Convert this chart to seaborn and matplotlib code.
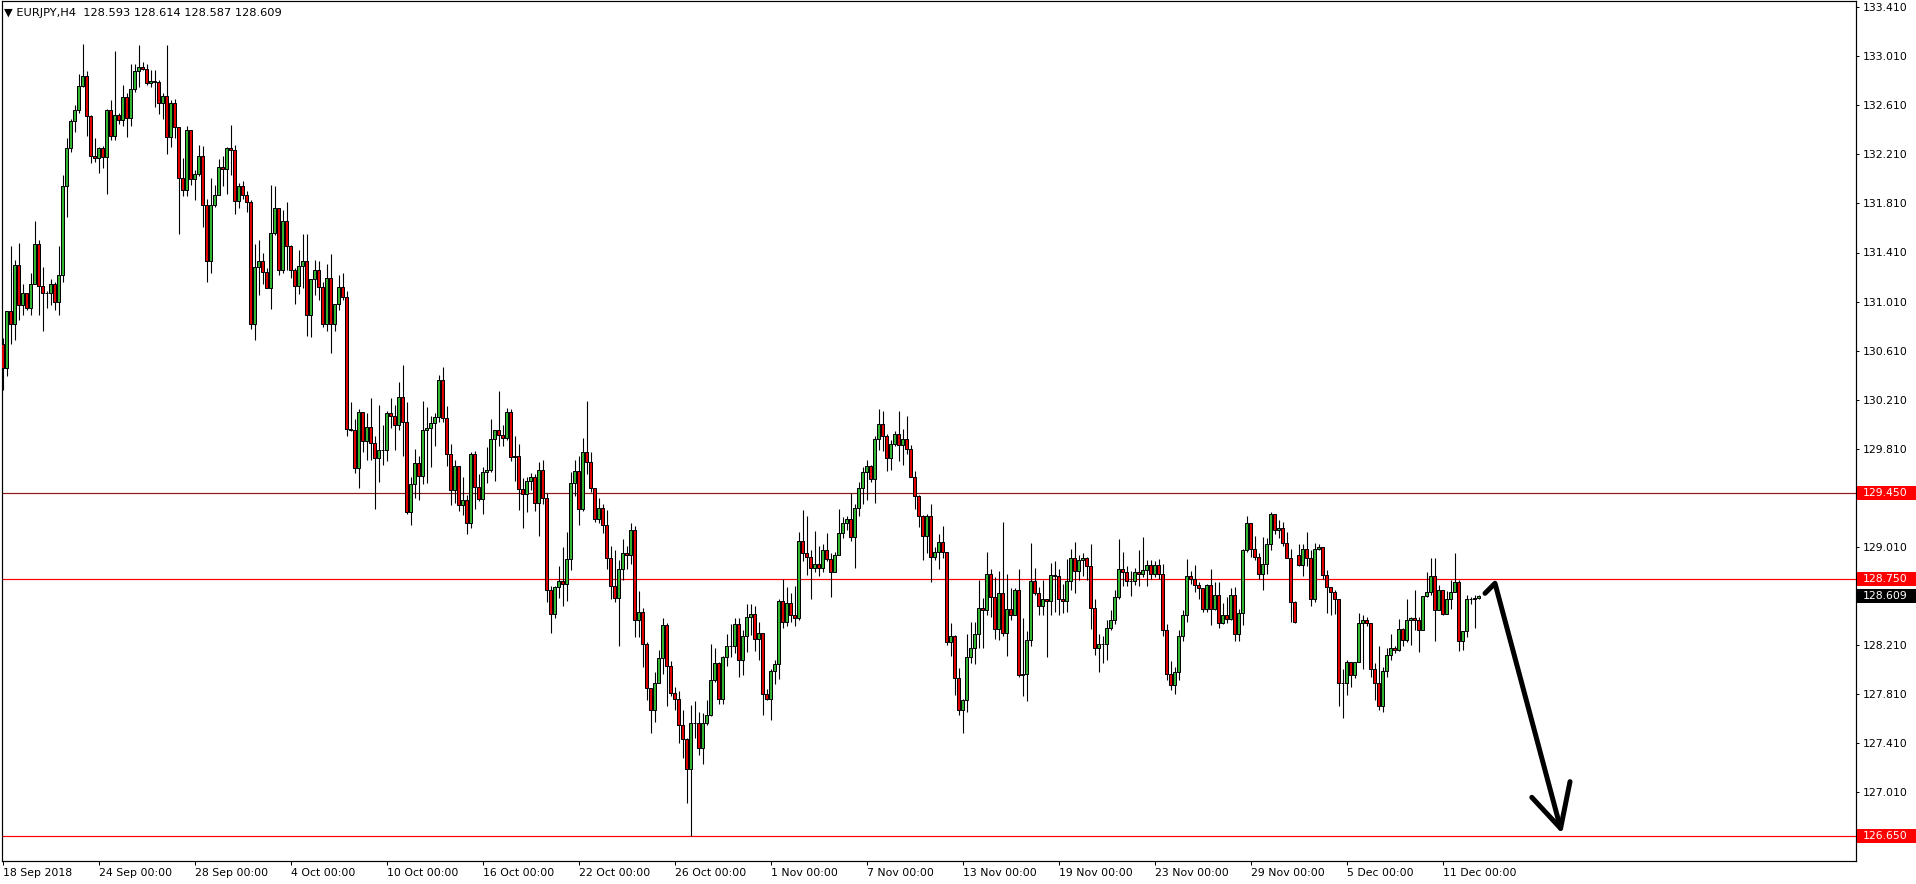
import numpy as np
import matplotlib
matplotlib.use("Agg")
import matplotlib.pyplot as plt
import matplotlib.transforms as mtransforms
from matplotlib.patches import Rectangle
import seaborn as sns

# EURJPY H4 candles (open = previous close unless listed)
first_open = 130.66
open_gaps = {324: 128.94, 369: 128.593}

close = [
    130.47, 130.93, 130.83, 131.31, 130.98, 131.08, 130.96, 131.15, 131.48, 131.14,
    131.08, 131.08, 131.15, 131.01, 131.23, 131.95, 132.26, 132.48, 132.57, 132.77,
    132.85, 132.52, 132.20, 132.18, 132.26, 132.19, 132.57, 132.36, 132.53, 132.49,
    132.68, 132.51, 132.74, 132.89, 132.92, 132.91, 132.79, 132.81, 132.80, 132.63,
    132.69, 132.35, 132.63, 132.43, 132.02, 131.92, 132.41, 132.01, 132.05, 132.20,
    131.80, 131.34, 131.80, 131.88, 132.11, 132.09, 132.26, 132.25, 131.83, 131.95,
    131.88, 131.82, 130.83, 131.29, 131.34, 131.25, 131.12, 131.57, 131.77, 131.27,
    131.67, 131.46, 131.27, 131.14, 131.30, 131.34, 130.90, 131.19, 131.27, 131.13,
    130.83, 131.20, 130.83, 130.99, 131.13, 131.05, 129.97, 129.96, 129.65, 130.11,
    129.87, 129.99, 129.86, 129.73, 129.80, 129.80, 130.10, 130.08, 130.00, 130.23,
    130.03, 129.29, 129.52, 129.69, 129.59, 129.96, 129.98, 130.02, 130.07, 130.37,
    130.06, 129.77, 129.47, 129.67, 129.35, 129.39, 129.20, 129.77, 129.50, 129.40,
    129.62, 129.64, 129.89, 129.96, 129.92, 129.90, 130.11, 129.74, 129.75, 129.48,
    129.44, 129.55, 129.58, 129.37, 129.64, 129.41, 128.66, 128.46, 128.68, 128.73,
    128.71, 128.91, 129.53, 129.63, 129.32, 129.78, 129.70, 129.49, 129.24, 129.33,
    129.19, 128.92, 128.69, 128.59, 128.83, 128.96, 128.94, 129.15, 128.41, 128.48,
    128.22, 127.86, 127.68, 127.90, 128.10, 128.37, 128.04, 127.82, 127.77, 127.56,
    127.44, 127.20, 127.57, 127.57, 127.37, 127.57, 127.64, 127.92, 128.06, 127.77,
    128.11, 128.20, 128.20, 128.38, 128.09, 128.28, 128.44, 128.46, 128.26, 128.31,
    127.81, 127.77, 128.00, 128.05, 128.57, 128.40, 128.55, 128.45, 128.43, 129.06,
    128.96, 128.93, 128.84, 128.87, 128.84, 128.98, 128.91, 128.80, 128.94, 129.12,
    129.20, 129.24, 129.09, 129.33, 129.49, 129.62, 129.67, 129.56, 129.89, 130.01,
    129.91, 129.73, 129.85, 129.93, 129.84, 129.89, 129.81, 129.58, 129.42, 129.26,
    129.10, 129.26, 128.93, 128.97, 129.05, 128.97, 128.23, 128.28, 127.94, 127.68,
    127.76, 128.11, 128.18, 128.30, 128.51, 128.49, 128.79, 128.60, 128.34, 128.63,
    128.31, 128.50, 128.45, 128.66, 127.96, 127.97, 128.25, 128.73, 128.63, 128.53,
    128.58, 128.57, 128.78, 128.77, 128.58, 128.57, 128.73, 128.92, 128.81, 128.90,
    128.92, 128.85, 128.51, 128.18, 128.22, 128.22, 128.35, 128.41, 128.60, 128.83,
    128.80, 128.73, 128.73, 128.80, 128.79, 128.82, 128.86, 128.79, 128.86, 128.79,
    128.33, 127.97, 127.88, 127.99, 128.28, 128.45, 128.77, 128.75, 128.70, 128.67,
    128.50, 128.70, 128.50, 128.62, 128.39, 128.45, 128.42, 128.62, 128.30, 128.47,
    128.98, 129.20, 128.99, 128.93, 128.79, 128.87, 129.03, 129.28, 129.15, 129.16,
    129.04, 128.92, 128.56, 128.40, 128.86, 128.99, 128.92, 128.58, 128.99, 129.01,
    128.78, 128.68, 128.64, 128.58, 127.90, 127.90, 128.07, 127.96, 128.07, 128.39,
    128.41, 128.39, 128.01, 127.90, 127.71, 128.00, 128.13, 128.18, 128.17, 128.34,
    128.25, 128.41, 128.43, 128.41, 128.33, 128.61, 128.64, 128.77, 128.49, 128.66,
    128.46, 128.58, 128.64, 128.72, 128.24, 128.32, 128.58, 128.58, 128.59, 128.609,
]

high = [
    130.71, 130.93, 131.46, 131.35, 131.49, 131.15, 131.08, 131.24, 131.67, 131.51,
    131.29, 131.10, 131.19, 131.17, 131.46, 132.04, 132.34, 132.50, 132.61, 132.87,
    133.11, 132.89, 132.53, 132.34, 132.27, 132.28, 132.58, 132.65, 133.05, 132.55,
    132.78, 132.71, 132.95, 132.95, 133.10, 132.96, 132.95, 132.90, 132.90, 132.82,
    132.71, 133.10, 132.65, 132.66, 132.43, 132.18, 132.44, 132.41, 132.08, 132.29,
    132.28, 131.85, 132.02, 131.96, 132.17, 132.20, 132.27, 132.45, 132.29, 131.98,
    131.99, 131.91, 131.84, 131.48, 131.51, 131.41, 131.28, 131.96, 131.95, 131.77,
    131.76, 131.82, 131.47, 131.28, 131.43, 131.56, 131.56, 131.19, 131.35, 131.34,
    131.17, 131.32, 131.40, 130.99, 131.23, 131.24, 131.10, 130.19, 130.05, 130.13,
    130.09, 130.10, 130.22, 129.91, 130.17, 130.00, 130.12, 130.22, 130.17, 130.35,
    130.49, 130.19, 129.58, 129.81, 129.75, 130.20, 130.15, 130.08, 130.10, 130.41,
    130.48, 130.16, 129.85, 129.72, 129.64, 129.58, 129.43, 129.78, 129.79, 129.60,
    129.66, 129.82, 130.05, 129.96, 130.28, 130.00, 130.14, 130.13, 129.91, 129.85,
    129.57, 129.58, 129.61, 129.60, 129.70, 129.72, 129.45, 128.69, 128.69, 128.85,
    129.01, 129.13, 129.62, 129.72, 129.75, 129.90, 130.20, 129.78, 129.49, 129.41,
    129.36, 129.31, 129.02, 128.98, 128.90, 129.07, 129.02, 129.20, 129.18, 128.65,
    128.51, 128.23, 127.81, 127.99, 128.17, 128.43, 128.39, 128.08, 127.87, 127.83,
    127.68, 127.45, 127.72, 127.75, 127.66, 127.65, 127.76, 128.22, 128.18, 128.07,
    128.12, 128.30, 128.38, 128.43, 128.43, 128.33, 128.54, 128.54, 128.53, 128.40,
    128.31, 127.85, 128.01, 128.09, 128.58, 128.75, 128.68, 128.63, 128.69, 129.13,
    129.31, 129.26, 128.98, 129.14, 129.02, 129.03, 129.12, 128.96, 128.97, 129.32,
    129.25, 129.26, 129.45, 129.36, 129.54, 129.66, 129.72, 129.68, 129.91, 130.13,
    130.12, 129.93, 129.88, 129.95, 130.12, 129.97, 130.08, 129.84, 129.63, 129.43,
    129.27, 129.28, 129.36, 129.01, 129.11, 129.18, 128.97, 128.39, 128.29, 128.02,
    127.77, 128.30, 128.40, 128.40, 128.74, 128.59, 128.97, 128.83, 128.76, 128.81,
    129.21, 128.79, 128.67, 128.67, 128.83, 128.43, 128.32, 129.04, 128.84, 128.68,
    128.74, 128.58, 128.88, 128.89, 128.83, 128.71, 128.91, 128.99, 129.05, 128.94,
    128.96, 128.93, 129.03, 128.58, 128.30, 128.28, 128.41, 128.49, 128.66, 129.07,
    128.97, 128.85, 128.81, 128.84, 128.98, 129.09, 128.90, 128.90, 128.89, 128.91,
    128.87, 128.38, 128.08, 128.03, 128.33, 128.49, 128.91, 128.81, 128.86, 128.72,
    128.66, 128.71, 128.83, 128.72, 128.72, 128.55, 128.60, 128.67, 128.68, 128.50,
    128.99, 129.26, 129.18, 129.10, 128.96, 129.09, 129.08, 129.29, 129.27, 129.23,
    129.21, 129.13, 128.99, 128.57, 129.03, 129.03, 129.13, 128.98, 129.04, 129.03,
    128.99, 128.82, 128.68, 128.66, 128.58, 128.01, 128.09, 128.07, 128.07, 128.47,
    128.45, 128.44, 128.37, 128.06, 128.20, 128.03, 128.18, 128.30, 128.20, 128.42,
    128.35, 128.58, 128.44, 128.66, 128.44, 128.61, 128.80, 128.92, 128.92, 128.70,
    128.66, 128.65, 128.74, 128.96, 128.74, 128.32, 128.62, 128.60, 128.62, 128.614,
]

low = [
    130.29, 130.40, 130.66, 130.70, 130.86, 130.90, 130.94, 130.90, 131.15, 130.90,
    130.77, 130.96, 130.98, 130.94, 130.90, 131.17, 131.70, 132.23, 132.39, 132.55,
    132.76, 132.36, 132.14, 132.15, 132.06, 132.10, 131.89, 132.33, 132.33, 132.46,
    132.44, 132.35, 132.44, 132.72, 132.76, 132.90, 132.78, 132.76, 132.60, 132.54,
    132.50, 132.21, 132.27, 132.34, 131.56, 131.87, 131.87, 131.96, 131.84, 132.03,
    131.62, 131.17, 131.24, 131.78, 131.96, 131.95, 131.89, 132.04, 131.72, 131.77,
    131.85, 131.74, 130.79, 130.70, 131.06, 131.15, 131.12, 130.95, 131.55, 131.23,
    131.24, 131.27, 131.20, 130.99, 131.07, 131.12, 130.73, 130.72, 131.06, 131.02,
    130.80, 130.77, 130.59, 130.77, 130.94, 131.02, 129.91, 129.95, 129.61, 129.49,
    129.78, 129.72, 129.72, 129.32, 129.54, 129.68, 129.71, 129.98, 129.80, 129.96,
    129.75, 129.28, 129.19, 129.41, 129.39, 129.52, 129.53, 129.66, 129.83, 130.03,
    130.03, 129.67, 129.35, 129.37, 129.30, 129.27, 129.11, 129.16, 129.32, 129.38,
    129.28, 129.53, 129.62, 129.55, 129.83, 129.83, 129.88, 129.71, 129.55, 129.31,
    129.16, 129.29, 129.47, 129.30, 129.10, 129.36, 128.56, 128.31, 128.43, 128.59,
    128.53, 128.57, 128.82, 129.42, 129.19, 129.30, 129.60, 129.46, 129.21, 129.20,
    129.12, 128.83, 128.58, 128.56, 128.20, 128.74, 128.83, 128.87, 128.27, 128.27,
    128.03, 127.76, 127.49, 127.58, 127.90, 127.97, 127.71, 127.79, 127.68, 127.41,
    127.29, 126.92, 126.65, 127.45, 127.31, 127.24, 127.56, 127.63, 127.91, 127.73,
    127.73, 128.04, 128.11, 128.14, 127.95, 127.96, 128.15, 128.29, 128.16, 128.09,
    127.64, 127.76, 127.60, 127.89, 127.93, 128.35, 128.36, 128.40, 128.36, 128.41,
    128.89, 128.78, 128.58, 128.80, 128.77, 128.80, 128.89, 128.60, 128.80, 128.94,
    129.08, 129.15, 129.06, 128.84, 129.26, 129.36, 129.39, 129.54, 129.37, 129.80,
    129.79, 129.63, 129.64, 129.83, 129.71, 129.68, 129.77, 129.58, 129.32, 129.17,
    128.90, 128.96, 128.72, 128.90, 128.83, 128.92, 128.21, 128.12, 127.80, 127.64,
    127.49, 127.66, 128.06, 128.05, 128.18, 128.18, 128.45, 128.44, 128.26, 128.25,
    128.28, 128.12, 128.41, 128.45, 127.95, 127.79, 127.75, 128.20, 128.62, 128.45,
    128.45, 128.11, 128.45, 128.48, 128.45, 128.47, 128.48, 128.66, 128.63, 128.74,
    128.77, 128.74, 128.34, 128.13, 127.99, 128.06, 128.09, 128.33, 128.38, 128.58,
    128.69, 128.69, 128.61, 128.70, 128.69, 128.76, 128.69, 128.75, 128.76, 128.75,
    128.28, 127.92, 127.84, 127.81, 127.92, 128.24, 128.40, 128.71, 128.64, 128.58,
    128.48, 128.48, 128.37, 128.49, 128.35, 128.38, 128.39, 128.41, 128.24, 128.24,
    128.37, 128.97, 128.93, 128.90, 128.75, 128.66, 128.79, 128.98, 129.11, 129.08,
    129.02, 128.92, 128.40, 128.39, 128.85, 128.77, 128.85, 128.53, 128.56, 128.98,
    128.75, 128.47, 128.45, 128.46, 127.71, 127.61, 127.80, 127.87, 127.94, 128.07,
    128.01, 128.36, 127.95, 127.76, 127.68, 127.66, 127.95, 128.09, 128.14, 128.16,
    128.20, 128.23, 128.21, 128.33, 128.15, 128.41, 128.60, 128.62, 128.24, 128.49,
    128.45, 128.46, 128.50, 128.64, 128.16, 128.17, 128.27, 128.54, 128.35, 128.587,
]

tick_bars = [0, 24, 48, 72, 96, 120, 144, 168, 192, 216, 240, 264, 288, 312, 336, 360]
tick_labels = ["18 Sep 2018", "24 Sep 00:00", "28 Sep 00:00", "4 Oct 00:00", "10 Oct 00:00",
               "16 Oct 00:00", "22 Oct 00:00", "26 Oct 00:00", "1 Nov 00:00", "7 Nov 00:00",
               "13 Nov 00:00", "19 Nov 00:00", "23 Nov 00:00", "29 Nov 00:00", "5 Dec 00:00",
               "11 Dec 00:00"]
price_ticks = [133.41, 133.01, 132.61, 132.21, 131.81, 131.41, 131.01, 130.61, 130.21,
               129.81, 129.41, 129.01, 128.61, 128.21, 127.81, 127.41, 127.01, 126.61]
# scale labels that sit under a coloured price box
covered_ticks = [129.41, 128.61, 126.61]

# horizontal levels: (price, line colour, box colour)
levels = [(129.450, "#8c1a1a", "#ff0000"), (128.750, "#ff0000", "#ff0000"),
          (126.650, "#ff0000", "#ff0000")]
last_price = 128.609

# hand-drawn arrow (bar index, price)
arrow_shaft_x = [370.5, 373.0, 389.4]
arrow_shaft_y = [128.63, 128.712, 126.713]
arrow_head_x = [382.2, 389.4, 391.75]
arrow_head_y = [126.966, 126.713, 127.094]

header = "\u25bc EURJPY,H4  128.593 128.614 128.587 128.609"

# ---------------------------------------------------------------
sns.set_style("white")
plt.rcParams["font.family"] = ["DejaVu Sans"]
FS = 7.8
PX = 0.72  # one pixel in points at 100 dpi

close = np.array(close)
high = np.array(high)
low = np.array(low)
opens = np.concatenate([[first_open], close[:-1]])
for k, v in open_gaps.items():
    opens[k] = v
high = np.maximum(high, np.maximum(opens, close))
low = np.minimum(low, np.minimum(opens, close))
x = np.arange(len(close))

W, H = 1916, 884
fig = plt.figure(figsize=(W / 100, H / 100), dpi=100)
fig.patch.set_facecolor("white")
ax = fig.add_axes([2 / W, 23 / H, 1854 / W, 860 / H])
ax.set_facecolor("white")

y_top = 133.41 + (7.3 - 1) / 122.6
y_bot = 133.41 - (861 - 7.3) / 122.6
ax.set_ylim(y_bot, y_top)
ax.set_xlim(-0.25, -0.25 + 1854 / 4)

# levels
for p, lc, bc in levels:
    ax.axhline(p, color=lc, lw=PX * 1.2, zorder=1)

# candles
up = close >= opens
ax.vlines(x, low, high, color="black", lw=PX * 1.1, zorder=2)
ax.bar(x[up], (close - opens)[up], bottom=opens[up], width=0.75,
       color="#32b432", edgecolor="black", linewidth=PX, zorder=3)
ax.bar(x[~up], (opens - close)[~up], bottom=close[~up], width=0.75,
       color="#e00000", edgecolor="black", linewidth=PX, zorder=3)

# arrow
ax.plot(arrow_shaft_x, arrow_shaft_y, color="black", lw=3.6,
        solid_capstyle="round", solid_joinstyle="round", zorder=6, clip_on=False)
ax.plot(arrow_head_x, arrow_head_y, color="black", lw=3.6,
        solid_capstyle="round", solid_joinstyle="round", zorder=6, clip_on=False)

# axes styling
for s in ax.spines.values():
    s.set_color("black")
    s.set_linewidth(PX * 1.2)
    s.set_visible(True)

ax.yaxis.tick_right()
ax.set_yticks(price_ticks)
ax.set_yticklabels(["" if v in covered_ticks else f"{v:.3f}" for v in price_ticks])
ax.tick_params(axis="y", which="both", right=True, left=False, direction="out",
               length=2.4, width=PX, pad=2.2, labelsize=FS, colors="black")
ax.set_xticks(tick_bars)
ax.set_xticklabels(tick_labels, ha="left")
ax.tick_params(axis="x", which="both", bottom=True, direction="out",
               length=3.0, width=PX, pad=2.0, labelsize=FS, colors="black")

# coloured price boxes on the right scale
trans = mtransforms.blended_transform_factory(ax.transAxes, ax.transData)
bh = 14 / 122.6
boxes = [(p, bc) for p, _, bc in levels] + [(last_price, "black")]
for p, bc in boxes:
    ax.add_patch(Rectangle((1.0004, p - bh / 2), 0.033, bh, transform=trans,
                           facecolor=bc, edgecolor="none", clip_on=False, zorder=7))
    ax.text(1.0037, p, f"{p:.3f}", transform=trans, color="white", fontsize=FS,
            va="center", ha="left", zorder=8, clip_on=False)

fig.text(4 / W, 1 - 12.5 / H, header, fontsize=8.2, va="center", ha="left", color="black")

fig.savefig("out.png", dpi=100, facecolor="white")
